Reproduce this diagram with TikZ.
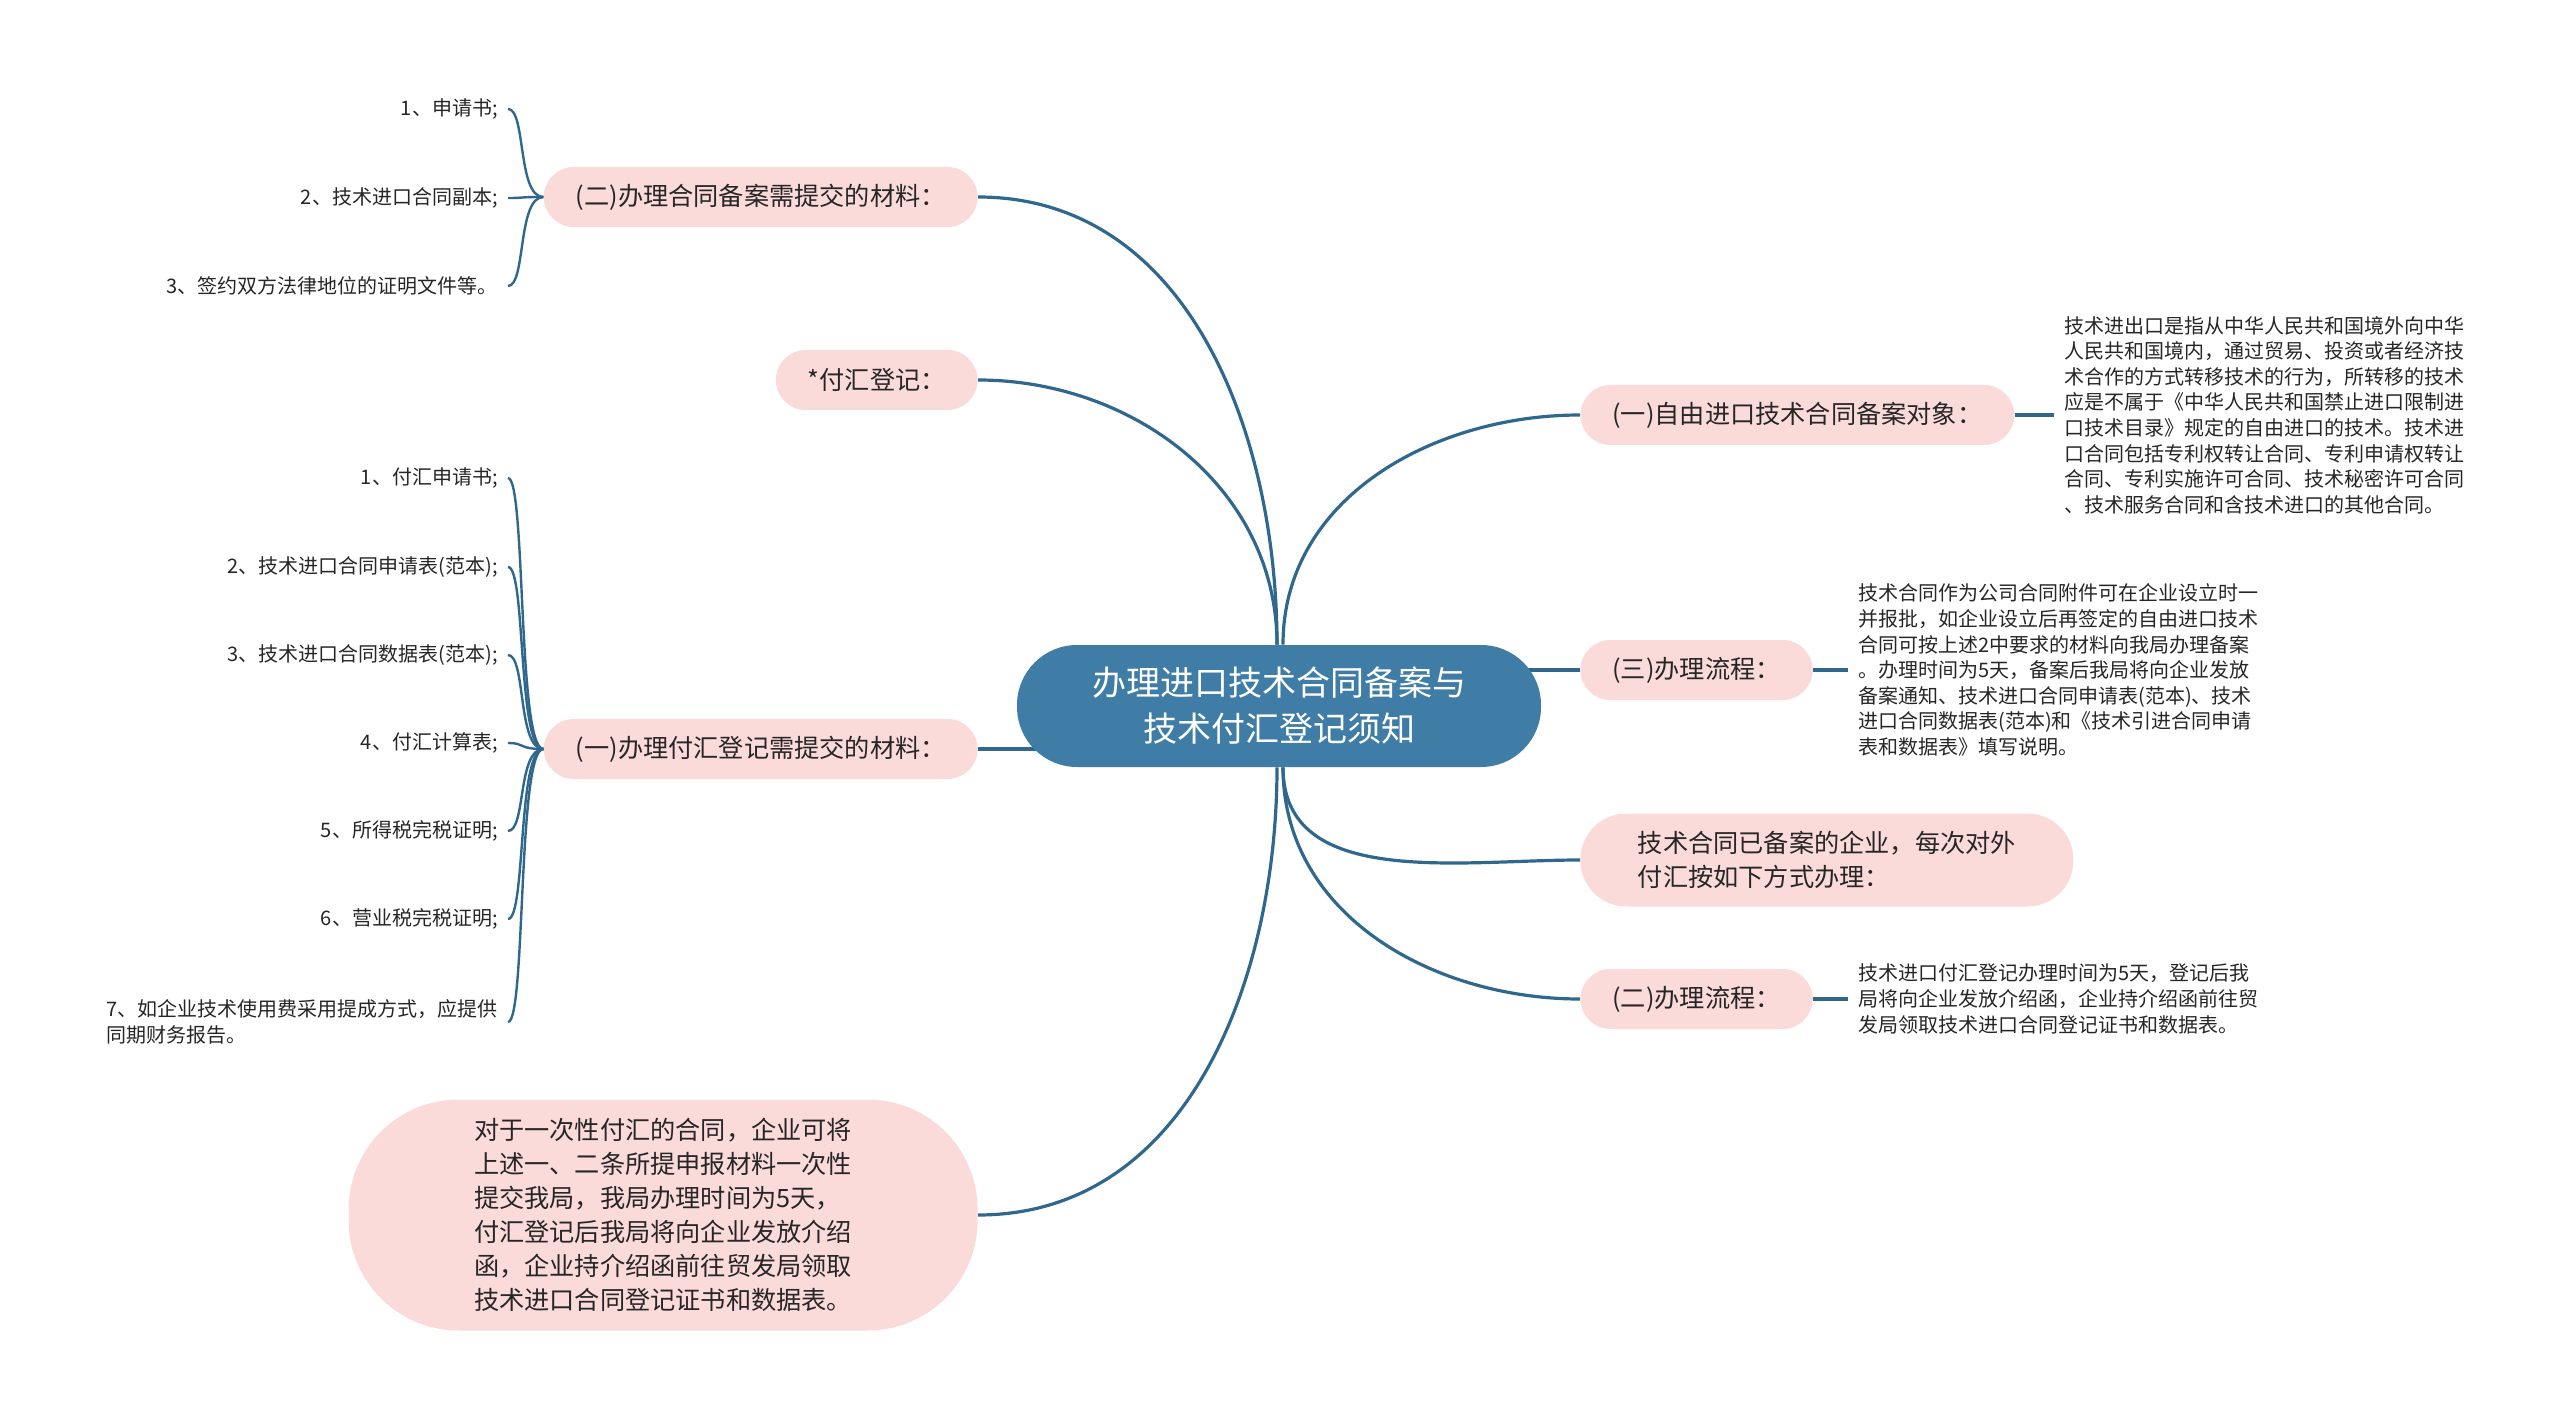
\documentclass[tikz,border=0pt]{standalone}
\usepackage{fontspec}
\newfontfamily\cjk{Noto Sans CJK SC}
\usetikzlibrary{backgrounds}
\definecolor{rootBlue}{RGB}{63,125,166}
\definecolor{linkBlue}{RGB}{47,104,140}
\definecolor{petal}{RGB}{251,218,218}
\tikzset{
    every node/.style={font=\cjk, text=black!85},
    root node/.style={
        fill=rootBlue, text=white, rounded corners=30pt,
        minimum width=262pt, minimum height=61pt, align=center,
        font=\cjk\fontsize{17pt}{23pt}\selectfont
    },
    branch/.style={
        fill=petal, rounded corners=15pt, minimum height=30pt,
        inner xsep=16pt, font=\cjk\fontsize{12.6pt}{17pt}\selectfont
    },
    leaf/.style={
        inner xsep=5pt, inner ysep=2pt, align=left,
        font=\cjk\fontsize{10pt}{12.8pt}\selectfont
    },
    link/.style={draw=linkBlue, line width=1.6pt},
    brace link/.style={draw=linkBlue, line width=1.2pt}
}

\begin{document}
\begin{tikzpicture}[x=0.5pt, y=-0.5pt]
        \useasboundingbox (0,0) rectangle (2560,1417);

        \node[root node] (root) at (1279,706) {办理进口技术合同备案与\\技术付汇登记须知};

        % left side
        \node[branch, anchor=east] (matB) at (978,197) {(二)办理合同备案需提交的材料：};
        \node[branch, anchor=east] (pay) at (978,380) {*付汇登记：};
        \node[branch, anchor=east] (matA) at (978,749) {(一)办理付汇登记需提交的材料：};
        \node[branch, anchor=east, minimum width=314.5pt, minimum height=115.5pt,
            rounded corners=55pt, align=left] (once) at (978,1215)
            {对于一次性付汇的合同，企业可将\\上述一、二条所提申报材料一次性\\提交我局，我局办理时间为5天，\\付汇登记后我局将向企业发放介绍\\函，企业持介绍函前往贸发局领取\\技术进口合同登记证书和数据表。};

        % right side
        \node[branch, anchor=west] (freeObj) at (1580,415) {(一)自由进口技术合同备案对象：};
        \node[branch, anchor=west] (procThree) at (1580,670) {(三)办理流程：};
        \node[branch, anchor=west, minimum width=246.5pt, minimum height=46.5pt,
            rounded corners=23pt, align=left] (filed) at (1580,860)
            {技术合同已备案的企业，每次对外\\付汇按如下方式办理：};
        \node[branch, anchor=west] (procTwo) at (1580,999) {(二)办理流程：};

        \node[leaf, anchor=west] (freeNote) at (2054,415)
            {技术进出口是指从中华人民共和国境外向中华\\人民共和国境内，通过贸易、投资或者经济技\\术合作的方式转移技术的行为，所转移的技术\\应是不属于《中华人民共和国禁止进口限制进\\口技术目录》规定的自由进口的技术。技术进\\口合同包括专利权转让合同、专利申请权转让\\合同、专利实施许可合同、技术秘密许可合同\\、技术服务合同和含技术进口的其他合同。};
        \node[leaf, anchor=west] (procThreeNote) at (1848,670)
            {技术合同作为公司合同附件可在企业设立时一\\并报批，如企业设立后再签定的自由进口技术\\合同可按上述2中要求的材料向我局办理备案\\。办理时间为5天，备案后我局将向企业发放\\备案通知、技术进口合同申请表(范本)、技术\\进口合同数据表(范本)和《技术引进合同申请\\表和数据表》填写说明。};
        \node[leaf, anchor=west] (procTwoNote) at (1848,999)
            {技术进口付汇登记办理时间为5天，登记后我\\局将向企业发放介绍函，企业持介绍函前往贸\\发局领取技术进口合同登记证书和数据表。};

        \draw[link] (freeObj.east) -- (freeNote.west);
        \draw[link] (procThree.east) -- (procThreeNote.west);
        \draw[link] (procTwo.east) -- (procTwoNote.west);

        \foreach \txt/\y [count=\i] in {1、申请书;/109, 2、技术进口合同副本;/198,
                3、签约双方法律地位的证明文件等。/286} {
            \node[leaf, anchor=east] (matB\i) at (508,\y) {\txt};
            \draw[brace link] (matB.west) .. controls +(-26,0) and +(18,0) .. (matB\i.east);
        }

        \foreach \txt/\y [count=\i] in {1、付汇申请书;/478, 2、技术进口合同申请表(范本);/567,
                3、技术进口合同数据表(范本);/655, 4、付汇计算表;/743, 5、所得税完税证明;/831,
                6、营业税完税证明;/919, {7、如企业技术使用费采用提成方式，应提供\\同期财务报告。}/1022} {
            \node[leaf, anchor=east] (matA\i) at (508,\y) {\txt};
            \draw[brace link] (matA.west) .. controls +(-26,0) and +(18,0) .. (matA\i.east);
        }

        \begin{scope}[on background layer]
            \draw[link] ([xshift=-1pt]root.north) to[out=90, in=0] (matB.east);
            \draw[link] ([xshift=-1pt]root.north) to[out=90, in=0] (pay.east);
            \draw[link] (matA.east) -- (matA.east -| root.center);
            \draw[link] ([xshift=-1pt]root.south) to[out=-90, in=0] (once.east);
            \draw[link] ([xshift=2pt]root.north) to[out=90, in=180] (freeObj.west);
            \draw[link] (procThree.west) -- (procThree.west -| root.center);
            \draw[link] ([xshift=2pt]root.south) to[out=-90, in=180] (filed.west);
            \draw[link] ([xshift=2pt]root.south) to[out=-90, in=180] (procTwo.west);
        \end{scope}
    \end{tikzpicture}
\end{document}
